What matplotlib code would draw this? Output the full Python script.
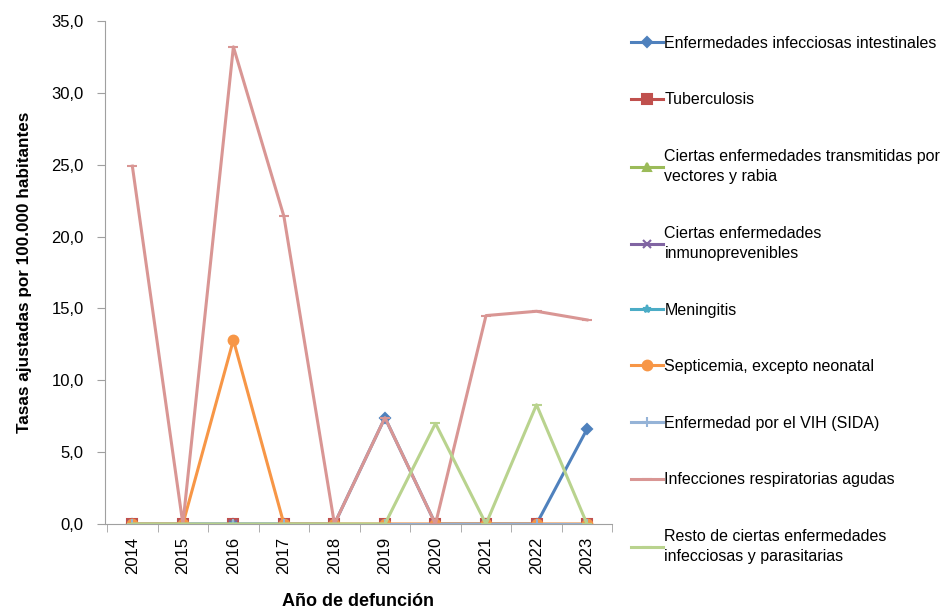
import numpy as np
import matplotlib.pyplot as plt

plt.rcParams['font.family'] = ['Liberation Sans', 'DejaVu Sans']

# Years and adjusted rates per 100.000 inhabitants
years = ['2014', '2015', '2016', '2017', '2018', '2019', '2020', '2021', '2022', '2023']

intestinales = [0, 0, 0, 0, 0, 7.4, 0, 0, 0, 6.6]
tuberculosis = [0, 0, 0, 0, 0, 0, 0, 0, 0, 0]
vectores = [0, 0, 0, 0, 0, 0, 0, 0, 0, 0]
inmunoprev = [0, 0, 0, 0, 0, 0, 0, 0, 0, 0]
meningitis = [0, 0, 0, 0, 0, 0, 0, 0, 0, 0]
septicemia = [0, 0, 12.8, 0, 0, 0, 0, 0, 0, 0]
vih = [0, 0, 0, 0, 0, 0, 0, 0, 0, 0]
respiratorias = [24.9, 0, 33.2, 21.4, 0, 7.4, 0, 14.5, 14.8, 14.2]
resto = [0, 0, 0, 0, 0, 0, 7.0, 0, 8.3, 0]

labels = [
    'Enfermedades infecciosas intestinales',
    'Tuberculosis',
    'Ciertas enfermedades transmitidas por\nvectores y rabia',
    'Ciertas enfermedades\ninmunoprevenibles',
    'Meningitis',
    'Septicemia, excepto neonatal',
    'Enfermedad por el VIH (SIDA)',
    'Infecciones respiratorias agudas',
    'Resto de ciertas enfermedades\ninfecciosas y parasitarias',
]
series = [intestinales, tuberculosis, vectores, inmunoprev, meningitis,
          septicemia, vih, respiratorias, resto]
colors = ['#4F81BD', '#C0504D', '#9BBB59', '#8064A2', '#4BACC6',
          '#F79646', '#95B3D7', '#D99694', '#B9D38E']
markers = ['D', 's', '^', 'x', '*', 'o', '+', '_', '_']
msizes = [5, 7, 6, 6, 6, 7, 7, 7, 7]

fig = plt.figure(figsize=(9.42, 6.09), dpi=100)
ax = fig.add_axes([0.111, 0.1396, 0.539, 0.826])

x = np.arange(len(years))
for vals, lab, c, m, ms in zip(series, labels, colors, markers, msizes):
    ax.plot(x, vals, color=c, marker=m, markersize=ms, linewidth=2.2,
            markeredgewidth=1.5, label=lab)

ax.set_xlim(-0.55, len(years) - 0.5)
ax.set_ylim(0, 35)
ax.set_yticks(np.arange(0, 36, 5))
ax.set_yticklabels([f'{v:.1f}'.replace('.', ',') for v in np.arange(0, 36, 5)],
                   fontsize=12)
ax.set_xticks(x)
ax.set_xticklabels(years, rotation=90, fontsize=12)
ax.set_xticks(np.arange(-0.5, len(years), 1), minor=True)
ax.tick_params(axis='x', which='major', length=0, pad=9)
ax.tick_params(axis='x', which='minor', length=6, color='#A0A0A0', direction='out')
ax.tick_params(axis='y', length=6, color='#A0A0A0', direction='out', pad=9)

for s in ['top', 'right']:
    ax.spines[s].set_visible(False)
ax.spines['left'].set_color('#A0A0A0')
ax.spines['bottom'].set_color('#A0A0A0')

ax.set_xlabel('Año de defunción', fontsize=13, fontweight='bold', labelpad=14)
ax.set_ylabel('Tasas ajustadas por 100.000 habitantes', fontsize=12.3,
              fontweight='bold', labelpad=14)

leg = fig.legend(loc='upper left', bbox_to_anchor=(0.663, 0.952), frameon=False,
                 fontsize=11.5, labelspacing=2.6, handlelength=2.0,
                 handletextpad=0.1, borderaxespad=0)
for t in leg.get_texts():
    t.set_linespacing(1.45)

fig.savefig('out.png', dpi=100)
